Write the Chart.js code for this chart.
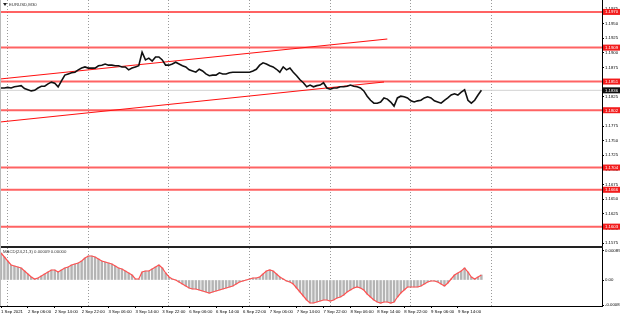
<!DOCTYPE html>
<html>
<head>
<meta charset="utf-8">
<script src="https://cdn.jsdelivr.net/npm/chart.js@4.4.0/dist/chart.umd.min.js"></script>
<style>
    html, body { margin: 0; padding: 0; background: #fff; }
    #wrap { position: relative; width: 620px; height: 317px; overflow: hidden; }
    #price { position: absolute; left: 0; top: 0; }
    #sep { position: absolute; left: 0; top: 246px; width: 603px; height: 2px; background: #222; }
    #macd { position: absolute; left: 0; top: 248px; }
    #leftEdge { position: absolute; left: 0; top: 0; width: 1px; height: 306px; background: #bbb; }
</style>
</head>
<body>
<div id="wrap">
    <canvas id="price" width="620" height="246" style="width:620px;height:246px"></canvas>
    <div id="sep"></div>
    <canvas id="macd" width="620" height="69" style="width:620px;height:69px"></canvas>
    <div id="leftEdge"></div>
</div>
<script>
(function() {
    'use strict';

    // EURUSD M30, one close per trading hour starting 1 Sep 22:00
    const closes = [
        1.1840, 1.1840, 1.1841, 1.1840, 1.1842, 1.1843, 1.1844, 1.1839, 1.1837, 1.1835,
        1.1836, 1.1840, 1.1843, 1.1843, 1.1847, 1.1850, 1.1848, 1.1842, 1.1852, 1.1862,
        1.1864, 1.1866, 1.1867, 1.1871, 1.1874, 1.1876, 1.1874, 1.1874, 1.1874, 1.1878,
        1.1879, 1.1881, 1.1879, 1.1879, 1.1878, 1.1878, 1.1876, 1.1876, 1.1871, 1.1874,
        1.1876, 1.1878, 1.1901, 1.1888, 1.1891, 1.1886, 1.1893, 1.1893, 1.1888, 1.1879,
        1.1879, 1.1881, 1.1884, 1.1881, 1.1878, 1.1876, 1.1871, 1.1869, 1.1867, 1.1872,
        1.1869, 1.1864, 1.1861, 1.1862, 1.1862, 1.1866, 1.1864, 1.1864, 1.1866, 1.1867,
        1.1867, 1.1867, 1.1867, 1.1867, 1.1867, 1.1869, 1.1872, 1.1879, 1.1883, 1.1881,
        1.1878, 1.1876, 1.1872, 1.1867, 1.1876, 1.1871, 1.1874, 1.1867, 1.1861, 1.1854,
        1.1849, 1.1842, 1.1845, 1.1842, 1.1844, 1.1845, 1.1849, 1.1840, 1.1838, 1.1840,
        1.1840, 1.1842, 1.1842, 1.1843, 1.1845, 1.1843, 1.1842, 1.1840, 1.1835, 1.1826,
        1.1819, 1.1814, 1.1814, 1.1816, 1.1823, 1.1821, 1.1816, 1.1809, 1.1823, 1.1826,
        1.1825, 1.1823, 1.1818, 1.1816, 1.1818, 1.1819, 1.1823, 1.1825, 1.1823, 1.1818,
        1.1816, 1.1814, 1.1819, 1.1823, 1.1828, 1.1830, 1.1828, 1.1833, 1.1837, 1.1819,
        1.1814, 1.1819, 1.1828, 1.1836
    ];

    const macdValues = [
        0.00081, 0.00069, 0.00057, 0.00045, 0.00042, 0.00039, 0.00036, 0.00027, 0.00018, 0.00009,
        0.00003, 0.00006, 0.00012, 0.00018, 0.00024, 0.00030, 0.00030, 0.00024, 0.00030, 0.00036,
        0.00039, 0.00045, 0.00048, 0.00051, 0.00057, 0.00066, 0.00072, 0.00072, 0.00069, 0.00063,
        0.00057, 0.00054, 0.00051, 0.00048, 0.00042, 0.00036, 0.00033, 0.00027, 0.00021, 0.00015,
        0.00003, 0.00003, 0.00024, 0.00027, 0.00027, 0.00033, 0.00039, 0.00045, 0.00036, 0.00021,
        0.00009, 0.00003, 0.00000, -0.00006, -0.00012, -0.00018, -0.00024, -0.00027, -0.00027, -0.00030,
        -0.00033, -0.00036, -0.00039, -0.00036, -0.00033, -0.00030, -0.00027, -0.00024, -0.00021, -0.00018,
        -0.00012, -0.00006, -0.00003, 0.00000, 0.00003, 0.00006, 0.00006, 0.00009, 0.00018, 0.00027,
        0.00030, 0.00027, 0.00018, 0.00009, 0.00003, -0.00003, -0.00006, -0.00012, -0.00024, -0.00036,
        -0.00048, -0.00060, -0.00069, -0.00069, -0.00066, -0.00063, -0.00060, -0.00060, -0.00063, -0.00060,
        -0.00054, -0.00051, -0.00045, -0.00036, -0.00030, -0.00024, -0.00021, -0.00024, -0.00030, -0.00042,
        -0.00051, -0.00060, -0.00066, -0.00069, -0.00066, -0.00066, -0.00069, -0.00066, -0.00051, -0.00039,
        -0.00030, -0.00021, -0.00021, -0.00021, -0.00021, -0.00018, -0.00012, -0.00006, -0.00003, -0.00003,
        -0.00006, -0.00012, -0.00018, -0.00009, 0.00003, 0.00015, 0.00021, 0.00027, 0.00036, 0.00024,
        0.00009, 0.00003, 0.00009, 0.00015
    ];

    // Horizontal support / resistance levels and the current bid
    const levels = [1.1970, 1.1909, 1.1851, 1.1802, 1.1704, 1.1666, 1.1603];
    const bidPrice = 1.1836;

    // Channel lines: [hour, price] at both ends
    const upperChannel = [[-0.3, 1.18554], [115, 1.19237]];
    const lowerChannel = [[-0.3, 1.17819], [114, 1.18502]];

    const timeLabels = [
        '1 Sep 2021', '2 Sep 06:00', '2 Sep 14:00', '2 Sep 22:00', '3 Sep 06:00', '3 Sep 14:00',
        '3 Sep 22:00', '6 Sep 06:00', '6 Sep 14:00', '6 Sep 22:00', '7 Sep 06:00', '7 Sep 14:00',
        '7 Sep 22:00', '8 Sep 06:00', '8 Sep 14:00', '8 Sep 22:00', '9 Sep 06:00', '9 Sep 14:00'
    ];
    const labelStep = 8;               // hours between time labels
    const daySeparators = [2, 26, 50, 74, 98, 122, 146];

    const priceTicks = [
        1.1975, 1.1950, 1.1925, 1.1900, 1.1875, 1.1850, 1.1825, 1.1800, 1.1775,
        1.1750, 1.1725, 1.1700, 1.1675, 1.1650, 1.1625, 1.1600, 1.1575
    ];
    const macdTicks = [0.00087, 0, -0.00075];
    const macdTickLabels = ['0.00089', '0.00', '-0.0008'];

    const X_MIN = -0.3, X_MAX = 178.9;
    const PRICE_MIN = 1.15699, PRICE_MAX = 1.19904;
    const MACD_MIN = -0.00078, MACD_MAX = 0.00096;

    const tinyFont = { family: '"Liberation Sans", Arial, sans-serif', size: 4.3 };

    function noPadding(scale) {
        scale.paddingTop = 0;
        scale.paddingBottom = 0;
        scale.paddingLeft = 0;
        scale.paddingRight = 0;
    }

    function dayGridAxis() {
        return {
            type: 'linear',
            min: X_MIN,
            max: X_MAX,
            offset: false,
            afterBuildTicks: s => { s.ticks = daySeparators.map(v => ({ value: v })); },
            ticks: { display: false },
            grid: { color: '#9a9a9a', lineWidth: 1, drawTicks: false, offset: false },
            border: { display: false, dash: [1, 2] },
            afterFit: s => { s.height = 0; noPadding(s); }
        };
    }

    // Red price tags on the right axis, title text
    const priceTags = {
        id: 'priceTags',
        afterDraw(chart) {
            const ctx = chart.ctx;
            const y = chart.scales.y;
            const left = chart.chartArea.right + 1;
            ctx.save();
            ctx.font = '4.3px "Liberation Sans", Arial, sans-serif';
            ctx.textBaseline = 'middle';
            levels.forEach(lv => {
                const py = y.getPixelForValue(lv);
                ctx.fillStyle = '#f21c1c';
                ctx.fillRect(left, py - 3, 17, 6);
                ctx.fillStyle = '#fff';
                ctx.fillText(lv.toFixed(4), left + 2, py + 0.3);
            });
            const by = y.getPixelForValue(bidPrice);
            ctx.fillStyle = '#111';
            ctx.fillRect(left, by - 3, 17, 6);
            ctx.fillStyle = '#fff';
            ctx.fillText(bidPrice.toFixed(4), left + 2, by + 0.3);

            ctx.fillStyle = '#222';
            ctx.beginPath();
            ctx.moveTo(3, 3); ctx.lineTo(7, 3); ctx.lineTo(5, 6); ctx.closePath();
            ctx.fill();
            ctx.fillStyle = '#333';
            ctx.fillText('EURUSD,M30', 9, 4.5);
            ctx.restore();
        }
    };

    const macdTitle = {
        id: 'macdTitle',
        afterDraw(chart) {
            const ctx = chart.ctx;
            ctx.save();
            ctx.font = '4.3px "Liberation Sans", Arial, sans-serif';
            ctx.textBaseline = 'middle';
            ctx.fillStyle = '#333';
            ctx.fillText('MACD(24,21,3) 0.00009 0.00000', 3, 4);
            ctx.restore();
        }
    };

    const lineStyle = (color, width) => ({
        borderColor: color,
        borderWidth: width,
        pointRadius: 0,
        tension: 0,
        fill: false
    });

    const levelSets = levels.map(lv => Object.assign({
        data: [{ x: X_MIN, y: lv }, { x: X_MAX, y: lv }]
    }, lineStyle('rgba(255, 60, 60, 0.8)', 2)));

    new Chart(document.getElementById('price'), {
        type: 'line',
        data: {
            datasets: [
                Object.assign({ data: closes.map((c, i) => ({ x: i, y: c })) }, lineStyle('#111', 1.6)),
                Object.assign({ data: upperChannel.map(p => ({ x: p[0], y: p[1] })) }, lineStyle('#ff1010', 1.1)),
                Object.assign({ data: lowerChannel.map(p => ({ x: p[0], y: p[1] })) }, lineStyle('#ff1010', 1.1)),
                ...levelSets,
                Object.assign({ data: [{ x: X_MIN, y: bidPrice }, { x: X_MAX, y: bidPrice }] }, lineStyle('#d2d2d2', 1))
            ]
        },
        options: {
            responsive: false,
            animation: false,
            layout: { padding: 0 },
            plugins: { legend: { display: false }, tooltip: { enabled: false } },
            scales: {
                x: dayGridAxis(),
                y: {
                    position: 'right',
                    min: PRICE_MIN,
                    max: PRICE_MAX,
                    afterBuildTicks: s => { s.ticks = priceTicks.map(v => ({ value: v })); },
                    ticks: {
                        font: tinyFont,
                        color: '#000',
                        padding: 1,
                        callback: v => v.toFixed(4)
                    },
                    grid: { drawOnChartArea: false, tickLength: 2, color: '#000' },
                    border: { display: true, color: '#000', width: 1 },
                    afterFit: s => { s.width = 18; noPadding(s); }
                }
            }
        },
        plugins: [priceTags]
    });

    new Chart(document.getElementById('macd'), {
        type: 'bar',
        data: {
            datasets: [
                Object.assign({ type: 'line', data: macdValues.map((v, i) => ({ x: i, y: v })) }, lineStyle('#ff5050', 1.2)),
                {
                    type: 'bar',
                    data: macdValues.map((v, i) => ({ x: i, y: v })),
                    backgroundColor: '#b4b4b4',
                    barThickness: 1.8,
                    borderWidth: 0
                }
            ]
        },
        options: {
            responsive: false,
            animation: false,
            layout: { padding: 0 },
            plugins: { legend: { display: false }, tooltip: { enabled: false } },
            scales: {
                x: {
                    type: 'linear',
                    min: X_MIN,
                    max: X_MAX,
                    offset: false,
                    afterBuildTicks: s => { s.ticks = timeLabels.map((_, i) => ({ value: i * labelStep })); },
                    ticks: {
                        font: tinyFont,
                        color: '#000',
                        padding: 1,
                        align: 'start',
                        maxRotation: 0,
                        autoSkip: false,
                        callback: v => timeLabels[Math.round(v / labelStep)]
                    },
                    grid: { drawOnChartArea: false, tickLength: 2, color: '#000', offset: false },
                    border: { display: true, color: '#000', width: 1 },
                    afterFit: s => { s.height = 11; noPadding(s); }
                },
                x2: dayGridAxis(),
                y: {
                    position: 'right',
                    min: MACD_MIN,
                    max: MACD_MAX,
                    afterBuildTicks: s => { s.ticks = macdTicks.map(v => ({ value: v })); },
                    ticks: {
                        font: tinyFont,
                        color: '#000',
                        padding: 1,
                        callback: (v, i) => macdTickLabels[i]
                    },
                    grid: { drawOnChartArea: false, tickLength: 2, color: '#000' },
                    border: { display: true, color: '#000', width: 1 },
                    afterFit: s => { s.width = 18; noPadding(s); }
                }
            }
        },
        plugins: [macdTitle]
    });
})();
</script>
</body>
</html>
